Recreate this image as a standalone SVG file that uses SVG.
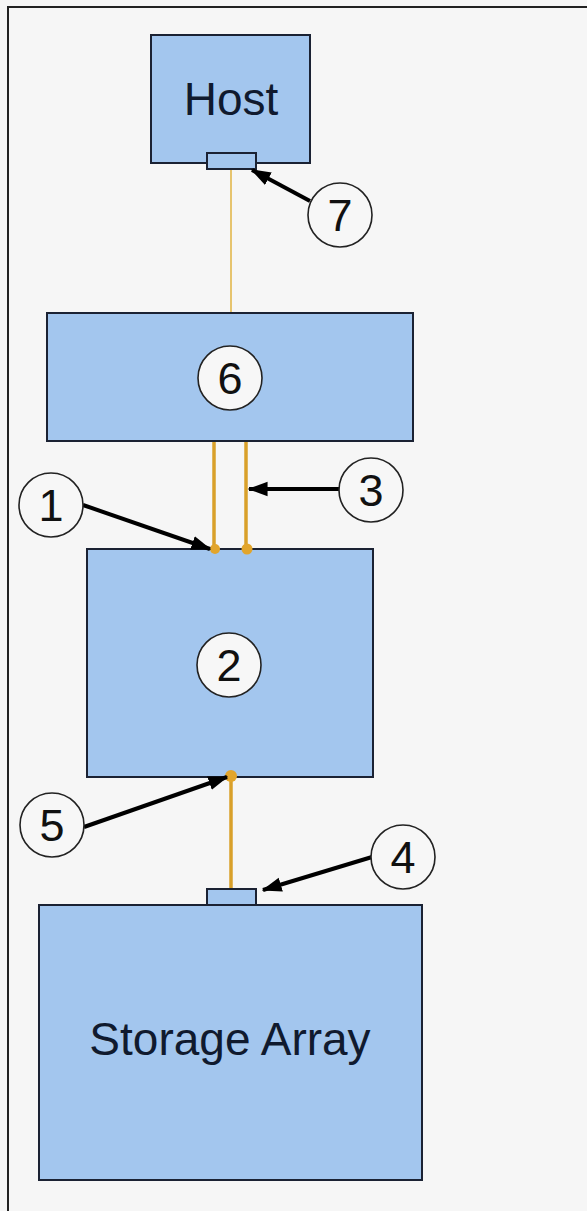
<svg xmlns="http://www.w3.org/2000/svg" width="587" height="1211" viewBox="0 0 587 1211">
<style>
.box{fill:#a3c6ee;stroke:#1b2233;stroke-width:2}
.lbl{font-family:"Liberation Sans",Arial,sans-serif;font-size:46px;fill:#101a2e;text-anchor:middle}
.num{font-family:"Liberation Sans",Arial,sans-serif;font-size:45px;fill:#111;text-anchor:middle}
.callout{fill:#f7f7f7;stroke:#222;stroke-width:1.6}
.arrow{stroke:#000;stroke-width:4;fill:none;marker-end:url(#ah)}
.cable{stroke:#d9a02a;stroke-width:3.5;fill:none}
.thin{stroke:#e6c46e;stroke-width:2;fill:none}
.dot{fill:#e2a52c}
</style>
<defs>
<marker id="ah" viewBox="0 0 14 10" refX="13" refY="5" markerWidth="5" markerHeight="4" orient="auto" markerUnits="strokeWidth">
<path d="M0,0 L14,5 L0,10 z" fill="#000"/>
</marker>
</defs>
<rect x="0" y="0" width="587" height="1211" fill="#f6f6f6"/>
<path d="M8,1211 L8,7 L587,7" fill="none" stroke="#222" stroke-width="2"/>

<g id="host">
<rect class="box" x="151" y="35" width="159" height="128"/>
<text class="lbl" x="231" y="115">Host</text>
</g>
<g id="node6">
<rect class="box" x="47" y="313" width="366" height="128"/>
<circle class="callout" cx="230" cy="378" r="32"/>
<text class="num" x="230" y="394">6</text>
</g>
<g id="node2">
<rect class="box" x="87" y="549" width="286" height="228"/>
<circle class="callout" cx="229" cy="665" r="32"/>
<text class="num" x="229" y="681">2</text>
</g>
<g id="storage">
<rect class="box" x="39" y="905" width="383" height="275"/>
<text class="lbl" x="230" y="1055">Storage Array</text>
</g>
<g id="host-port">
<rect class="box" x="207" y="153" width="49" height="16" stroke-width="1.6"/>
</g>
<g id="storage-port">
<rect class="box" x="207" y="889" width="49" height="16" stroke-width="1.6"/>
</g>

<g id="connectors">
<line class="thin" x1="231" y1="170" x2="231" y2="312"/>
<line class="cable" x1="214" y1="442" x2="214" y2="549"/>
<line class="cable" x1="246" y1="442" x2="246" y2="549"/>
<line class="cable" x1="231" y1="777" x2="231" y2="888"/>
<circle class="dot" cx="215" cy="549" r="5"/>
<circle class="dot" cx="247" cy="549" r="5.5"/>
<circle class="dot" cx="231" cy="776" r="6"/>
<line class="arrow" x1="310" y1="201" x2="252" y2="170"/>
<line class="arrow" x1="83" y1="505" x2="210" y2="549"/>
<line class="arrow" x1="339" y1="489" x2="249" y2="489"/>
<line class="arrow" x1="84" y1="827" x2="227" y2="777"/>
<line class="arrow" x1="372" y1="857" x2="263" y2="890"/>
</g>

<g id="c7"><circle class="callout" cx="340" cy="215" r="32"/><text class="num" x="340" y="231">7</text></g>
<g id="c1"><circle class="callout" cx="51" cy="505" r="32"/><text class="num" x="51" y="521">1</text></g>
<g id="c3"><circle class="callout" cx="371" cy="490" r="32"/><text class="num" x="371" y="506">3</text></g>
<g id="c5"><circle class="callout" cx="52" cy="825" r="32"/><text class="num" x="52" y="841">5</text></g>
<g id="c4"><circle class="callout" cx="403" cy="857" r="32"/><text class="num" x="403" y="873">4</text></g>
</svg>
